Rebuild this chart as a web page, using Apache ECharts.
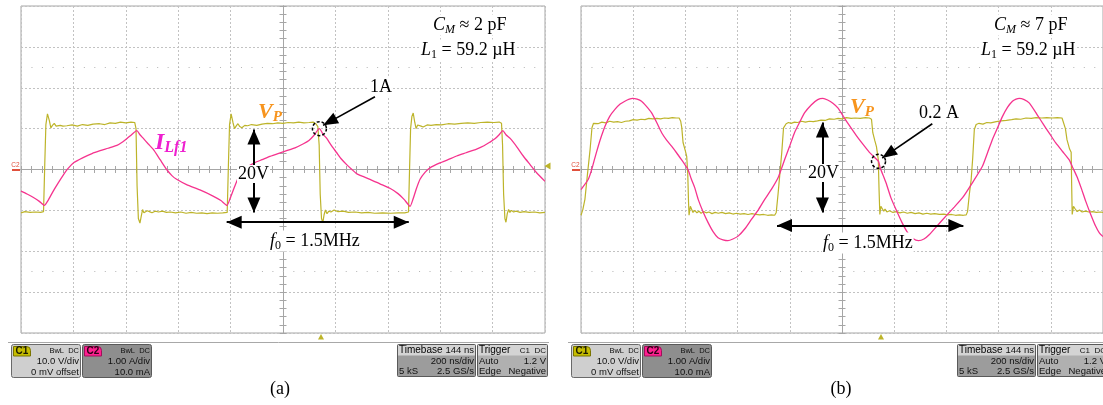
<!DOCTYPE html>
<html>
<head>
<meta charset="utf-8">
<script src="https://cdn.jsdelivr.net/npm/echarts@6/dist/echarts.min.js"></script>
<style>
  html, body { margin: 0; padding: 0; background: #fff; }
  #chart { width: 1103px; height: 405px; }
</style>
</head>
<body>
<div id="chart"></div>
<script>
// Scope captures. Time in ns relative to the screen centre (200 ns/div),
// C1 = V_P in volts (10 V/div), C2 = I_Lf1 in amperes (1 A/div).

// (a) C_M ≈ 2 pF
const vpA = [[-1000,-10.6],[-985,-10.3],[-965,-10.5],[-945,-10.4],[-925,-10.5],[-914,-10.3],[-909,2.0],[-905,11.0],[-899,13.6],[-892,12.0],[-886,10.2],[-880,10.8],[-873,11.3],[-866,10.6],[-859,10.3],[-850,10.8],[-840,10.6],[-825,10.7],[-805,10.9],[-785,10.6],[-765,11.0],[-745,10.8],[-725,11.1],[-700,11.2],[-680,11.0],[-660,11.4],[-640,11.3],[-620,11.6],[-600,11.4],[-580,11.6],[-566,11.5],[-561,10.0],[-557,-4.0],[-552,-12.0],[-546,-13.1],[-541,-11.4],[-536,-9.8],[-531,-10.6],[-525,-10.9],[-518,-10.1],[-510,-10.3],[-500,-10.6],[-488,-10.2],[-475,-10.4],[-460,-10.2],[-445,-10.5],[-430,-10.4],[-410,-10.6],[-390,-10.4],[-370,-10.7],[-350,-10.5],[-330,-10.7],[-310,-10.6],[-290,-10.8],[-270,-10.6],[-250,-10.7],[-230,-10.6],[-213,-10.5],[-208,2.0],[-204,11.0],[-198,13.6],[-191,11.5],[-185,10.0],[-179,10.6],[-172,11.2],[-165,10.5],[-157,10.2],[-146,10.8],[-135,10.7],[-120,11.0],[-100,10.8],[-80,11.1],[-60,11.3],[-40,11.2],[-20,11.4],[0,11.3],[20,11.5],[40,11.4],[60,11.6],[80,11.4],[100,11.5],[115,11.6],[125,11.2],[133,10.5],[138,6.0],[142,-6.0],[147,-12.0],[152,-13.0],[157,-11.0],[162,-9.9],[168,-10.8],[175,-10.2],[183,-10.4],[195,-9.9],[210,-10.3],[230,-10.2],[250,-10.5],[275,-10.4],[300,-10.6],[325,-10.5],[350,-10.7],[380,-10.6],[410,-10.7],[440,-10.6],[465,-10.6],[479,-10.4],[483,0.0],[487,10.0],[492,13.0],[497,13.8],[503,11.5],[508,10.0],[514,10.9],[520,11.3],[527,10.6],[535,10.4],[550,10.9],[565,10.8],[585,11.0],[605,10.9],[630,11.2],[655,11.1],[680,11.3],[705,11.4],[730,11.3],[755,11.5],[780,11.6],[805,11.5],[825,11.6],[834,11.3],[838,6.0],[842,-6.0],[847,-12.0],[851,-12.9],[856,-10.8],[861,-9.8],[866,-10.5],[872,-10.0],[880,-10.4],[890,-10.2],[905,-10.5],[920,-10.3],[940,-10.5],[960,-10.4],[980,-10.6],[1000,-10.5]];
const ilA = [[-1000,-0.53],[-977,-0.60],[-954,-0.68],[-930,-0.78],[-911,-0.88],[-897,-0.76],[-878,-0.54],[-859,-0.34],[-840,-0.15],[-821,0.02],[-798,0.17],[-763,0.29],[-729,0.39],[-698,0.46],[-668,0.52],[-634,0.59],[-611,0.68],[-595,0.76],[-580,0.84],[-558,0.95],[-546,0.85],[-533,0.76],[-515,0.63],[-495,0.49],[-469,0.24],[-444,0.00],[-424,-0.15],[-406,-0.24],[-368,-0.37],[-317,-0.50],[-267,-0.65],[-237,-0.76],[-214,-0.88],[-202,-0.71],[-187,-0.46],[-172,-0.22],[-156,-0.05],[-134,0.07],[-107,0.17],[-80,0.24],[-50,0.32],[-19,0.39],[14,0.46],[46,0.53],[78,0.63],[99,0.71],[116,0.82],[139,1.00],[153,0.86],[167,0.76],[183,0.60],[205,0.41],[221,0.27],[243,0.12],[263,0.00],[281,-0.10],[305,-0.17],[332,-0.24],[370,-0.35],[408,-0.46],[439,-0.59],[462,-0.73],[485,-0.90],[496,-0.73],[508,-0.49],[523,-0.24],[542,-0.07],[561,0.04],[599,0.16],[630,0.24],[663,0.33],[699,0.41],[739,0.50],[767,0.58],[790,0.67],[809,0.75],[825,0.85],[839,0.95],[851,0.85],[867,0.76],[893,0.55],[917,0.33],[943,0.12],[968,-0.08],[1000,-0.29]];

// (b) C_M ≈ 7 pF
const vpB = [[-1000,-11.2],[-993,-9.8],[-985,-7.3],[-975,-1.0],[-965,5.0],[-958,10.2],[-952,11.3],[-945,11.5],[-935,11.2],[-920,11.6],[-905,11.4],[-890,11.8],[-875,11.6],[-860,11.7],[-845,11.5],[-830,11.8],[-815,11.9],[-800,12.2],[-785,12.1],[-770,12.3],[-755,12.2],[-740,12.5],[-725,12.4],[-710,12.5],[-695,12.4],[-680,12.6],[-665,12.5],[-650,12.7],[-635,12.6],[-624,12.6],[-618,11.8],[-614,10.3],[-609,6.6],[-600,4.5],[-595,3.2],[-591,-1.0],[-588,-8.0],[-586,-11.2],[-581,-9.0],[-577,-9.6],[-571,-10.5],[-564,-10.0],[-556,-10.6],[-548,-10.2],[-540,-10.7],[-530,-10.3],[-520,-10.6],[-510,-10.4],[-498,-10.8],[-486,-10.5],[-474,-10.7],[-460,-10.5],[-446,-10.8],[-432,-10.6],[-418,-10.9],[-404,-10.7],[-390,-10.9],[-375,-10.8],[-360,-11.0],[-345,-10.8],[-330,-11.0],[-315,-11.1],[-300,-11.0],[-285,-11.2],[-270,-11.1],[-258,-11.2],[-252,-10.5],[-245,-6.0],[-238,-1.0],[-231,4.0],[-224,10.2],[-214,11.2],[-205,11.5],[-195,11.3],[-182,11.6],[-170,11.5],[-155,11.8],[-140,11.6],[-125,11.8],[-110,11.7],[-94,11.9],[-80,12.1],[-65,12.0],[-48,12.4],[-30,12.3],[-15,12.5],[0,12.4],[17,12.7],[35,12.5],[50,12.6],[70,12.5],[90,12.7],[105,12.6],[113,12.3],[118,9.0],[126,7.0],[132,5.6],[139,2.4],[142,-5.0],[145,-11.0],[149,-9.0],[154,-9.4],[160,-10.2],[165,-9.7],[172,-10.4],[182,-10.1],[195,-10.5],[208,-10.3],[222,-10.6],[236,-10.4],[250,-10.7],[265,-10.5],[280,-10.8],[295,-10.6],[310,-10.9],[325,-10.7],[340,-10.9],[355,-10.8],[373,-11.0],[390,-10.9],[405,-11.1],[420,-11.0],[435,-11.2],[450,-11.1],[465,-11.2],[476,-11.1],[481,-10.3],[488,-6.0],[495,-2.4],[501,3.0],[507,9.8],[514,11.0],[525,11.3],[540,11.1],[555,11.5],[570,11.4],[591,11.7],[610,11.9],[630,12.0],[650,12.2],[667,12.4],[685,12.3],[705,12.6],[725,12.5],[744,12.7],[765,12.6],[785,12.7],[805,12.6],[825,12.7],[843,12.6],[850,12.2],[856,10.0],[862,7.3],[872,5.0],[878,4.2],[880,-4.0],[882,-11.0],[887,-9.0],[893,-9.6],[901,-10.3],[910,-9.9],[920,-10.4],[932,-10.2],[946,-10.4],[960,-10.3],[975,-10.5],[990,-10.4],[1000,-10.5]];
const ilB = [[-1000,-0.49],[-972,-0.24],[-959,0.00],[-947,0.28],[-934,0.57],[-921,0.83],[-908,1.06],[-890,1.30],[-870,1.47],[-850,1.60],[-832,1.67],[-815,1.72],[-802,1.74],[-785,1.72],[-768,1.67],[-750,1.55],[-730,1.39],[-710,1.15],[-691,0.90],[-672,0.72],[-653,0.57],[-634,0.41],[-615,0.24],[-602,0.12],[-590,0.00],[-577,-0.24],[-564,-0.45],[-551,-0.73],[-532,-1.04],[-513,-1.30],[-494,-1.52],[-475,-1.67],[-456,-1.72],[-437,-1.74],[-418,-1.70],[-398,-1.63],[-372,-1.45],[-347,-1.22],[-320,-0.98],[-296,-0.73],[-270,-0.48],[-245,-0.20],[-232,0.02],[-220,0.24],[-200,0.58],[-182,0.90],[-162,1.16],[-143,1.39],[-118,1.58],[-93,1.71],[-73,1.74],[-55,1.70],[-35,1.62],[-15,1.50],[5,1.30],[30,1.06],[55,0.83],[80,0.62],[105,0.42],[124,0.30],[140,0.20],[146,0.05],[158,-0.15],[169,-0.33],[188,-0.70],[207,-0.98],[230,-1.30],[252,-1.55],[272,-1.69],[293,-1.74],[314,-1.70],[335,-1.59],[366,-1.37],[398,-1.14],[430,-0.92],[462,-0.69],[500,-0.32],[538,0.08],[557,0.40],[576,0.73],[596,1.02],[615,1.30],[634,1.52],[653,1.67],[667,1.72],[679,1.74],[698,1.71],[717,1.63],[742,1.40],[768,1.14],[794,0.89],[819,0.65],[845,0.44],[870,0.24],[886,0.02],[902,-0.20],[918,-0.48],[934,-0.78],[953,-1.10],[972,-1.39],[986,-1.55],[1000,-1.64]];

// Annotation anchors in data units: [time, low V, high V] for the 20 V swing,
// [start, end, V] for one switching period, [time, A] for the marked current.
const swingA = [-111, -10.5, 9.8];
const swingB = [-75, -10.5, 11.5];
const periodA = [-215, 480, -12.9];
const periodB = [-249, 465, -13.7];
const markA = [139, 1.0];
const markB = [140, 0.2];
const calloutTailA = [351, 1.78];
const calloutTailB = [346, 1.12];

// Scope screen: 10 x 8 divisions
const TIME_RANGE = [-1000, 1000, 200];
const VOLT_RANGE = [-40, 40, 10];
const AMP_RANGE = [-4, 4, 1];

const YELLOW = '#bdb42a';
const PINK = '#f5338e';
const GRIDC = '#c2c2c2';
const FRAMEC = '#a6a6a6';
const SERIF = '"Liberation Serif","Times New Roman",serif';
const SANS = '"Liberation Sans",Arial,sans-serif';

function xAxes(grid) {
  const base = {
    gridIndex: grid, type: 'value', min: TIME_RANGE[0], max: TIME_RANGE[1], interval: TIME_RANGE[2],
    axisLine: { show: true, onZero: true, lineStyle: { color: FRAMEC, width: 1 } },
    axisTick: { show: true, inside: true, length: 3.5, lineStyle: { color: FRAMEC } },
    minorTick: { show: true, splitNumber: 5, length: 3.5, lineStyle: { color: FRAMEC } },
    axisLabel: { show: false }
  };
  return [
    Object.assign({}, base, { position: 'bottom', splitLine: { show: true, lineStyle: { color: GRIDC, type: [2, 2], width: 1 } } }),
    Object.assign({}, base, { position: 'top', splitLine: { show: false } })
  ];
}
function yAxes(grid) {
  const base = {
    gridIndex: grid, type: 'value',
    axisLine: { show: true, onZero: true, lineStyle: { color: FRAMEC, width: 1 } },
    axisTick: { show: true, inside: true, length: 3.5, lineStyle: { color: FRAMEC } },
    minorTick: { show: true, splitNumber: 5, length: 3.5, lineStyle: { color: FRAMEC } },
    axisLabel: { show: false }
  };
  return [
    Object.assign({}, base, { position: 'left', min: VOLT_RANGE[0], max: VOLT_RANGE[1], interval: VOLT_RANGE[2],
      splitLine: { show: true, lineStyle: { color: GRIDC, type: [2, 2], width: 1 } } }),
    Object.assign({}, base, { position: 'right', min: AMP_RANGE[0], max: AMP_RANGE[1], interval: AMP_RANGE[2],
      splitLine: { show: false } })
  ];
}

const arrowEnds = [[0, '50%'], [0, '50%']];

function panelSeries(k, vp, il, swing, period, mark, tail) {
  const xi = 2 * k, yv = 2 * k, ya = 2 * k + 1;
  return [
    { // sparse dotted rows at ±2.5 div
      type: 'line', xAxisIndex: xi, yAxisIndex: yv, data: [], silent: true,
      markLine: { silent: true, symbol: 'none', label: { show: false },
        lineStyle: { color: '#b4b4b4', type: [1, 9.475], width: 1 },
        data: [{ yAxis: 25 }, { yAxis: -25 }] }
    },
    {
      name: 'V_P', type: 'line', xAxisIndex: xi, yAxisIndex: yv, data: vp,
      showSymbol: false, symbol: 'none', z: 3,
      lineStyle: { color: YELLOW, width: 1.2 },
      markLine: {
        silent: true, symbol: ['triangle', 'triangle'], symbolSize: [13, 15], symbolOffset: arrowEnds,
        label: { show: false }, lineStyle: { color: '#000', width: 2, type: 'solid' },
        data: [
          [{ coord: [swing[0], swing[1]] }, { coord: [swing[0], swing[2]] }],
          [{ coord: [period[0], period[2]] }, { coord: [period[1], period[2]] }]
        ]
      }
    },
    {
      name: 'I_Lf1', type: 'line', xAxisIndex: xi, yAxisIndex: ya, data: il,
      showSymbol: false, symbol: 'none', smooth: 0.2, z: 4,
      lineStyle: { color: PINK, width: 1.3 },
      markLine: {
        silent: true, symbol: ['none', 'triangle'], symbolSize: [12, 15], symbolOffset: arrowEnds,
        label: { show: false }, lineStyle: { color: '#000', width: 1.6, type: 'solid' },
        data: [[{ coord: [tail[0], tail[1]] }, { coord: [mark[0] + 14, mark[1] + 0.08] }]]
      },
      markPoint: {
        silent: true, symbol: 'circle', symbolSize: 14, label: { show: false },
        itemStyle: { color: 'rgba(0,0,0,0)', borderColor: '#000', borderWidth: 1.5, borderType: [3, 2] },
        data: [{ coord: mark }]
      }
    }
  ];
}

// ---- annotation text (rich text with sub-scripts) ----
const rich = {
  n: { fontFamily: SERIF, fontSize: 18, fill: '#000' },
  i: { fontFamily: SERIF, fontSize: 18, fontStyle: 'italic', fill: '#000' },
  si: { fontFamily: SERIF, fontSize: 12, fontStyle: 'italic', fill: '#000', padding: [9, 0, 0, 0] },
  sn: { fontFamily: SERIF, fontSize: 12, fill: '#000', padding: [9, 0, 0, 0] },
  vo: { fontFamily: SERIF, fontSize: 22, fontStyle: 'italic', fontWeight: 'bold', fill: '#f7941d' },
  vs: { fontFamily: SERIF, fontSize: 15, fontStyle: 'italic', fontWeight: 'bold', fill: '#f7941d', padding: [10, 0, 0, 0] },
  io: { fontFamily: SERIF, fontSize: 24, fontStyle: 'italic', fontWeight: 'bold', fill: '#ee1fcf' },
  is: { fontFamily: SERIF, fontSize: 16, fontStyle: 'italic', fontWeight: 'bold', fill: '#ee1fcf', padding: [10, 0, 0, 0] }
};
function txt(x, y, text, bg) {
  return { type: 'text', z: 100, silent: true,
    style: { x: x, y: y, text: text, rich: rich, align: 'left', verticalAlign: 'middle',
      backgroundColor: bg === false ? 'transparent' : '#fff', padding: [0, 1] } };
}
function plain(x, y, text, size, align, weight, color) {
  return { type: 'text', z: 100, silent: true,
    style: { x: x, y: y, text: text, fill: color || '#111', align: align, verticalAlign: 'middle',
      font: (weight || 'normal') + ' ' + size + 'px ' + SANS } };
}

function annotations(cm, vpPos, markLbl, lblPos, tenPos, fPos) {
  return [
    txt(cm[0], 25, '{i|C}{si|M}{n| ≈ ' + cm[1] + ' pF}'),
    txt(cm[2], 50, '{i|L}{sn|1}{n| = 59.2 µH}'),
    txt(vpPos[0], vpPos[1], '{vo|V}{vs|P}', false),
    txt(lblPos[0], lblPos[1], '{n|' + markLbl + '}'),
    txt(tenPos[0], tenPos[1], '{n|20V}'),
    txt(fPos[0], fPos[1], '{i|f}{sn|0}{n| = 1.5MHz}')
  ];
}

function infoBoxes(dx) {
  const els = [];
  const R = (x, y, w, h, fill, stroke, r) => ({ type: 'rect', z: 90, silent: true,
    shape: { x: x + dx, y: y, width: w, height: h, r: r || 0 },
    style: { fill: fill, stroke: stroke || 'none', lineWidth: 1 } });
  els.push({ type: 'line', z: 90, silent: true, shape: { x1: 8 + dx, y1: 342.5, x2: 549 + dx, y2: 342.5 },
    style: { stroke: '#a8a8a8', lineWidth: 1 } });
  // channel 1
  els.push(R(11.5, 344.5, 69, 33, '#cfcfcf', '#6a6a6a', 2));
  els.push(R(13.5, 346.5, 17, 9.5, '#c6bd00', '#7a7400', [0, 4, 0, 0]));
  els.push(plain(22 + dx, 351.5, 'C1', 10, 'center', 'bold', '#1a1a00'));
  els.push(plain(79 + dx, 350.5, 'BwL  DC', 7.5, 'right'));
  els.push(plain(79 + dx, 361.5, '10.0 V/div', 9.5, 'right'));
  els.push(plain(79 + dx, 372, '0 mV offset', 9.5, 'right'));
  // channel 2
  els.push(R(82.5, 344.5, 69, 33, '#8e8e8e', '#5a5a5a', 2));
  els.push(R(84.5, 346.5, 17, 9.5, '#ff1f90', '#a0105a', [0, 4, 0, 0]));
  els.push(plain(93 + dx, 351.5, 'C2', 10, 'center', 'bold', '#2a0015'));
  els.push(plain(150 + dx, 350.5, 'BwL  DC', 7.5, 'right'));
  els.push(plain(150 + dx, 361.5, '1.00 A/div', 9.5, 'right'));
  els.push(plain(150 + dx, 372, '10.0 mA', 9.5, 'right'));
  // timebase
  els.push(R(397.5, 344.5, 78, 32, '#9c9c9c', '#5a5a5a', 1));
  els.push(R(398, 345, 77, 10.5, '#d4d4d4'));
  els.push(plain(399 + dx, 350.5, 'Timebase', 10, 'left', 'normal', '#000'));
  els.push(plain(474 + dx, 350.5, '144 ns', 9.5, 'right'));
  els.push(plain(474 + dx, 361.5, '200 ns/div', 9.5, 'right'));
  els.push(plain(399 + dx, 371.5, '5 kS', 9.5, 'left'));
  els.push(plain(474 + dx, 371.5, '2.5 GS/s', 9.5, 'right'));
  // trigger
  els.push(R(477.5, 344.5, 70, 32, '#b0b0b0', '#5a5a5a', 1));
  els.push(R(478, 345, 69, 10.5, '#d4d4d4'));
  els.push(plain(479 + dx, 350.5, 'Trigger', 10, 'left', 'normal', '#000'));
  els.push(plain(546 + dx, 350.5, 'C1  DC', 8, 'right'));
  els.push(plain(479 + dx, 361.5, 'Auto', 9.5, 'left'));
  els.push(plain(546 + dx, 361.5, '1.2 V', 9.5, 'right'));
  els.push(plain(479 + dx, 371.5, 'Edge', 9.5, 'left'));
  els.push(plain(546 + dx, 371.5, 'Negative', 9.5, 'right'));
  // C2 offset marker at the left edge, trigger-position and level markers
  els.push(plain(15.5 + dx, 165.5, 'C2', 6.5, 'center', 'normal', '#e0503c'));
  els.push({ type: 'line', z: 90, silent: true, shape: { x1: 12 + dx, y1: 170, x2: 20 + dx, y2: 170 },
    style: { stroke: '#e0503c', lineWidth: 2 } });
  els.push({ type: 'polygon', z: 90, silent: true, shape: { points: [[318 + dx, 339.5], [324 + dx, 339.5], [321 + dx, 334]] },
    style: { fill: YELLOW } });
  els.push({ type: 'polygon', z: 90, silent: true, shape: { points: [[550.5 + dx, 162.5], [550.5 + dx, 169.5], [544.5 + dx, 166]] },
    style: { fill: YELLOW } });
  return els;
}

const graphicEls = []
  .concat(infoBoxes(0), infoBoxes(560))
  .concat(annotations([432, '2', 420], [257, 112], '1A', [369, 87], [237, 174], [269, 241]))
  .concat(annotations([993, '7', 980], [849, 107], '0.2 A', [918, 113], [807, 173], [822, 243]))
  .concat([
    txt(154, 143, '{io|I}{is|Lf1}', false),
    { type: 'text', z: 100, silent: true, style: { x: 280, y: 389, text: '(a)', align: 'center', verticalAlign: 'middle', fill: '#000', font: '18px ' + SERIF } },
    { type: 'text', z: 100, silent: true, style: { x: 841, y: 389, text: '(b)', align: 'center', verticalAlign: 'middle', fill: '#000', font: '18px ' + SERIF } }
  ]);

const chart = echarts.init(document.getElementById('chart'), null, { renderer: 'canvas' });
chart.setOption({
  animation: false,
  backgroundColor: '#fff',
  grid: [
    { left: 21, top: 6, width: 524, height: 327, show: true, borderColor: FRAMEC, borderWidth: 1, backgroundColor: '#fff' },
    { left: 581, top: 6, width: 523, height: 327, show: true, borderColor: FRAMEC, borderWidth: 1, backgroundColor: '#fff' }
  ],
  xAxis: xAxes(0).concat(xAxes(1)),
  yAxis: yAxes(0).concat(yAxes(1)),
  series: panelSeries(0, vpA, ilA, swingA, periodA, markA, calloutTailA)
    .concat(panelSeries(1, vpB, ilB, swingB, periodB, markB, calloutTailB)),
  graphic: { elements: graphicEls }
});
</script>
</body>
</html>
